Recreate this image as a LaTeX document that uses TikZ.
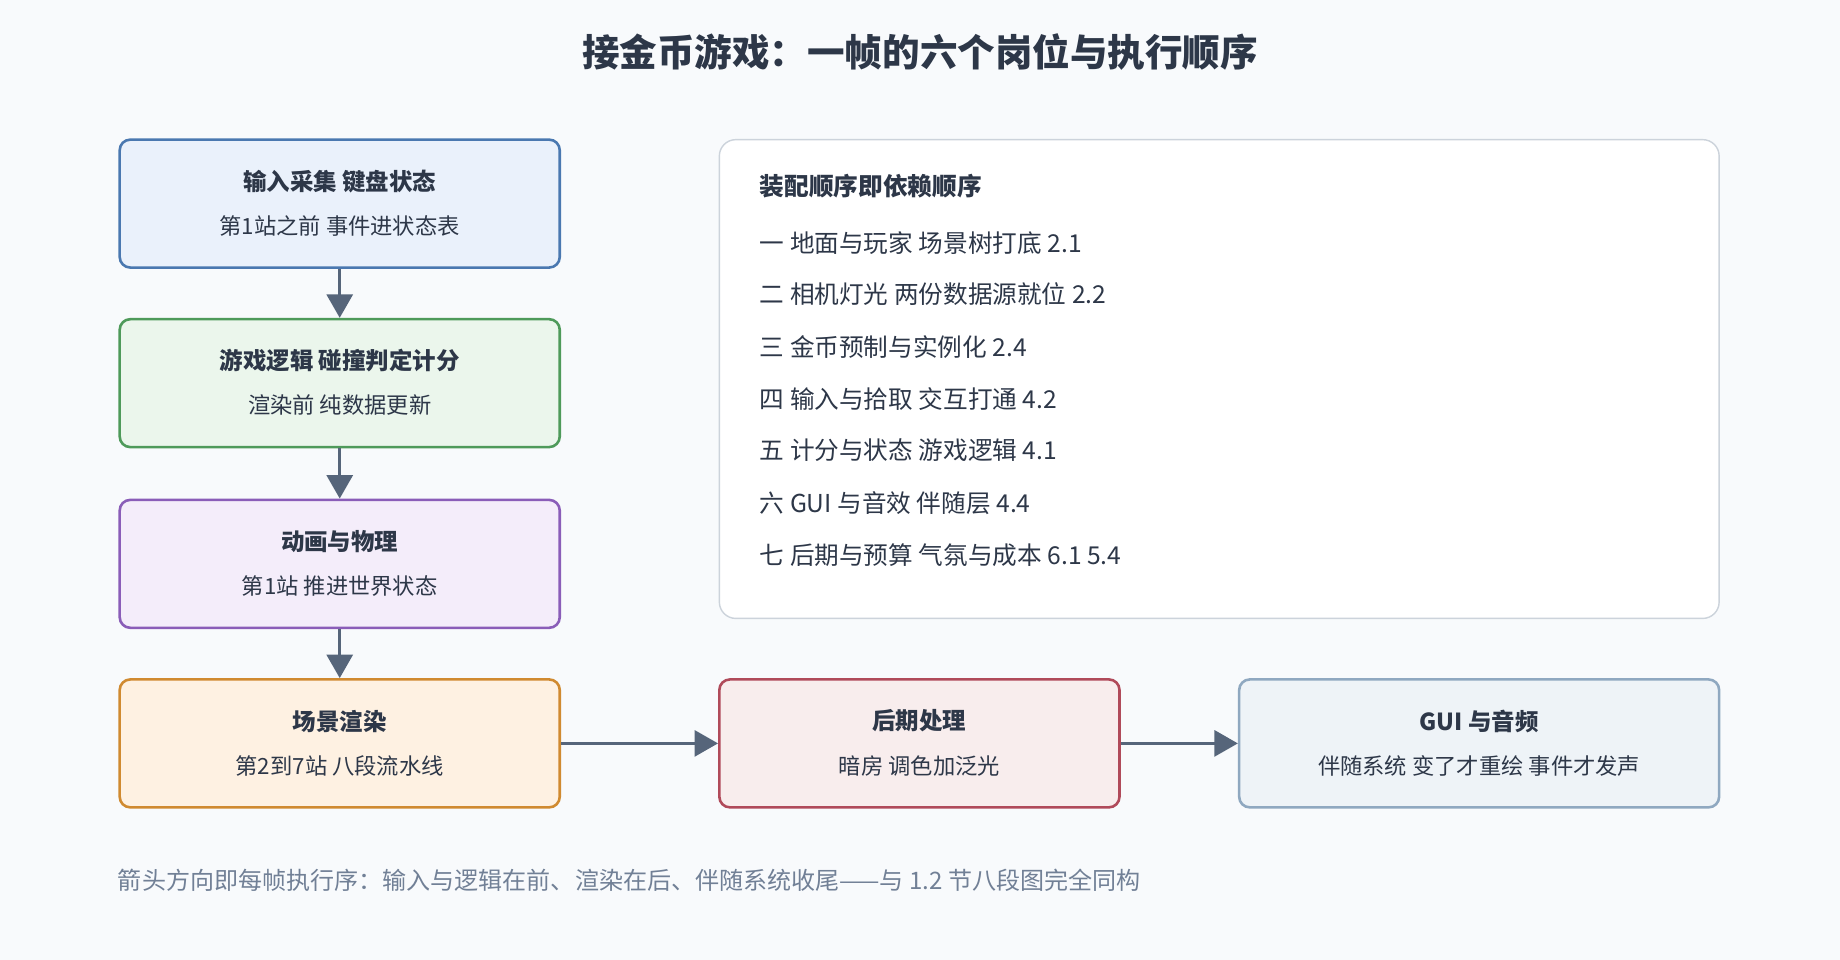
\documentclass[tikz,border=0pt]{standalone}
\usepackage{fontspec}
\setmainfont{Noto Sans CJK SC}
\usetikzlibrary{arrows.meta}
\definecolor{bg}{HTML}{F8FAFC}
\definecolor{ink}{HTML}{2D3748}
\definecolor{arr}{HTML}{56657A}
\definecolor{f1}{HTML}{EAF1FB}\definecolor{d1}{HTML}{4A78B0}
\definecolor{f2}{HTML}{EBF6EC}\definecolor{d2}{HTML}{4E9A5A}
\definecolor{f3}{HTML}{F4EDFA}\definecolor{d3}{HTML}{8A5DB8}
\definecolor{f4}{HTML}{FEF1E2}\definecolor{d4}{HTML}{D08A30}
\definecolor{f5}{HTML}{F8EDED}\definecolor{d5}{HTML}{B04A5A}
\definecolor{f6}{HTML}{EEF3F7}\definecolor{d6}{HTML}{8FA8C0}
\definecolor{pb}{HTML}{CCD3DB}\definecolor{fg}{HTML}{718096}
\tikzset{
 box/.style={draw, line width=2.2pt, rounded corners=9pt, minimum width=375pt, minimum height=109pt, align=center, text=ink},
 ttl/.style={font=\fontsize{20}{24}\selectfont\bfseries, text=ink},
 sub/.style={font=\fontsize{19}{23}\selectfont, text=ink},
 pl/.style={font=\fontsize{21}{25}\selectfont, text=ink, anchor=west},
 con/.style={draw=arr, line width=3pt, -{Triangle[length=20pt,width=22pt]}}
}
\begin{document}
\begin{tikzpicture}[x=1pt,y=-1pt]
\fill[bg] (0,0) rectangle (1568,818);
\useasboundingbox (0,0) rectangle (1568,818);
\node[font=\fontsize{32}{38}\selectfont\bfseries, text=ink] (title) at (784,44) {接金币游戏：一帧的六个岗位与执行顺序};
\node[box, fill=f1, draw=d1] (b1) at (289.5,173.5) {};
\node[box, fill=f2, draw=d2] (b2) at (289.5,326.5) {};
\node[box, fill=f3, draw=d3] (b3) at (289.5,480.5) {};
\node[box, fill=f4, draw=d4] (b4) at (289.5,633.5) {};
\node[box, minimum width=341pt, fill=f5, draw=d5] (b5) at (783.5,633.5) {};
\node[box, minimum width=409pt, fill=f6, draw=d6] (b6) at (1260.5,633.5) {};
\foreach \n/\a/\b in {b1/输入采集 键盘状态/第1站之前 事件进状态表, b2/游戏逻辑 碰撞判定计分/渲染前 纯数据更新, b3/动画与物理/第1站 推进世界状态, b4/场景渲染/第2到7站 八段流水线, b5/后期处理/暗房 调色加泛光, b6/GUI 与音频/伴随系统 变了才重绘 事件才发声}{
 \node[ttl] (\n t) at ([yshift=19pt]\n.center) {\a};
 \node[sub] (\n s) at ([yshift=-19pt]\n.center) {\b};
}
\draw[con] (b1) -- (b2);
\draw[con] (b2) -- (b3);
\draw[con] (b3) -- (b4);
\draw[con] (b4) -- (b5);
\draw[con] (b5) -- (b6);
\node[draw=pb, line width=1.2pt, fill=white, rounded corners=14pt, minimum width=852pt, minimum height=408pt] (panel) at (1039,323) {};
\node[pl, font=\fontsize{21}{25}\selectfont\bfseries] (h) at (644,159) {装配顺序即依赖顺序};
\node[pl] (l1) at (644,207) {一 地面与玩家 场景树打底 2.1};
\node[pl] (l2) at (644,251) {二 相机灯光 两份数据源就位 2.2};
\node[pl] (l3) at (644,296) {三 金币预制与实例化 2.4};
\node[pl] (l4) at (644,340) {四 输入与拾取 交互打通 4.2};
\node[pl] (l5) at (644,384) {五 计分与状态 游戏逻辑 4.1};
\node[pl] (l6) at (644,429) {六 GUI 与音效 伴随层 4.4};
\node[pl] (l7) at (644,473) {七 后期与预算 气氛与成本 6.1 5.4};
\node[anchor=west, font=\fontsize{20.5}{24}\selectfont, text=fg] (foot) at (97,750) {箭头方向即每帧执行序：输入与逻辑在前、渲染在后、伴随系统收尾——与 1.2 节八段图完全同构};
\end{tikzpicture}
\end{document}
